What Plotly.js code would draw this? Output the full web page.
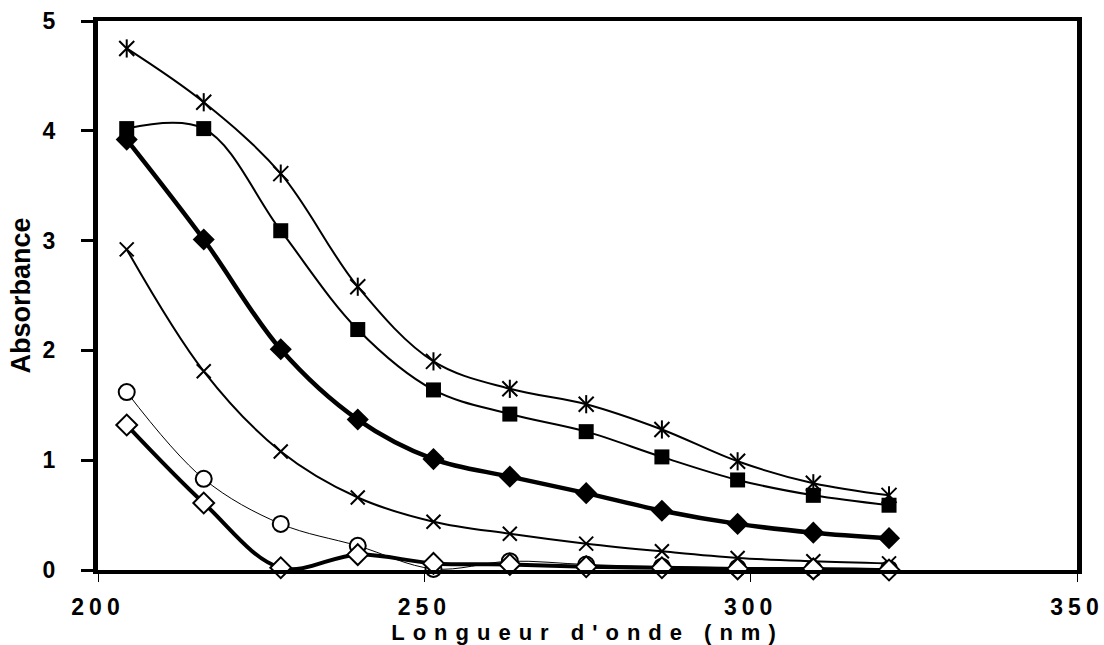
<!DOCTYPE html>
<html>
<head>
<meta charset="utf-8">
<script src="https://cdn.plot.ly/plotly-3.0.1.min.js"></script>
<style>
  html, body { margin: 0; padding: 0; background: #fff; }
  #chart { width: 1104px; height: 645px; }
  .xtick text { letter-spacing: 5px; }
  .g-xtitle text { letter-spacing: 8px; }
</style>
</head>
<body>
<div id="chart"></div>
<script>
// Wavelength (nm)
const wavelength = [204.4, 216.2, 228.0, 239.8, 251.4, 263.1, 274.8, 286.4, 298.0, 309.6, 321.2];

// Absorbance series
const seriesDiamond     = [3.92, 3.01, 2.01, 1.37, 1.01, 0.85, 0.70, 0.54, 0.42, 0.34, 0.29];
const seriesSquare      = [4.02, 4.02, 3.09, 2.19, 1.64, 1.42, 1.26, 1.03, 0.82, 0.68, 0.59];
const seriesCross       = [2.92, 1.81, 1.08, 0.66, 0.44, 0.33, 0.24, 0.17, 0.11, 0.08, 0.06];
const seriesStar        = [4.75, 4.26, 3.61, 2.58, 1.90, 1.65, 1.51, 1.28, 0.99, 0.79, 0.68];
const seriesCircle      = [1.62, 0.83, 0.42, 0.22, 0.01, 0.08, 0.05, 0.03, 0.02, 0.01, 0.01];
const seriesOpenDiamond = [1.32, 0.61, 0.02, 0.14, 0.06, 0.05, 0.03, 0.02, 0.01, 0.01, 0.00];

const xTicks = [200, 250, 300, 350];
const yTicks = [0, 1, 2, 3, 4, 5];

function lineTrace(y, lw, symbol, size, fill, mlw) {
  return {
    x: wavelength, y: y, type: 'scatter', mode: 'lines+markers',
    line: { color: '#000', width: lw, shape: 'spline', smoothing: 1 },
    marker: { symbol: symbol, size: size, color: fill, line: { color: '#000', width: mlw } },
    cliponaxis: false, showlegend: false, hoverinfo: 'x+y'
  };
}

const traces = [
  lineTrace(seriesDiamond, 4.5, 'diamond', 17, '#000', 0),
  lineTrace(seriesSquare, 2, 'square', 15, '#000', 0),
  lineTrace(seriesCross, 2, 'x-thin-open', 14, '#000', 2),
  lineTrace(seriesStar, 2, 'x-thin-open', 15, '#000', 2),
  // vertical bar completing the 6-armed star markers
  { x: wavelength, y: seriesStar, type: 'scatter', mode: 'markers',
    marker: { symbol: 'line-ns-open', size: 13, color: '#000', line: { color: '#000', width: 2 } },
    cliponaxis: false, showlegend: false, hoverinfo: 'skip' },
  lineTrace(seriesCircle, 1, 'circle', 16, '#fff', 2),
  lineTrace(seriesOpenDiamond, 4, 'diamond', 16, '#fff', 2)
];

const layout = {
  width: 1104, height: 645,
  margin: { l: 98, r: 27, t: 21, b: 75 },
  paper_bgcolor: '#fff', plot_bgcolor: '#fff',
  font: { family: '"Liberation Sans", Arial, sans-serif', color: '#000' },
  showlegend: false,
  xaxis: {
    range: [200, 350], tickvals: xTicks, ticktext: xTicks.map(String),
    showgrid: false, zeroline: false,
    showline: true, linecolor: '#000', linewidth: 4, mirror: true,
    ticks: 'outside', ticklen: 8, tickwidth: 1, tickcolor: '#000',
    ticklabelstandoff: 5,
    tickfont: { size: 23, family: '"Liberation Sans", Arial, sans-serif', weight: 'bold' },
    title: { text: "Longueur d'onde (nm)", font: { size: 22, weight: 'bold' } }
  },
  yaxis: {
    range: [0, 5], tickvals: yTicks, ticktext: yTicks.map(String),
    showgrid: false, zeroline: false,
    showline: true, linecolor: '#000', linewidth: 5, mirror: true,
    ticks: 'outside', ticklen: 12, tickwidth: 3, tickcolor: '#000',
    ticklabelstandoff: 21,
    tickfont: { size: 23, family: '"Liberation Sans", Arial, sans-serif', weight: 'bold' },
    title: { text: 'Absorbance', font: { size: 27, weight: 'bold' } }
  }
};

Plotly.newPlot('chart', traces, layout, { staticPlot: true, displayModeBar: false });
</script>
</body>
</html>
